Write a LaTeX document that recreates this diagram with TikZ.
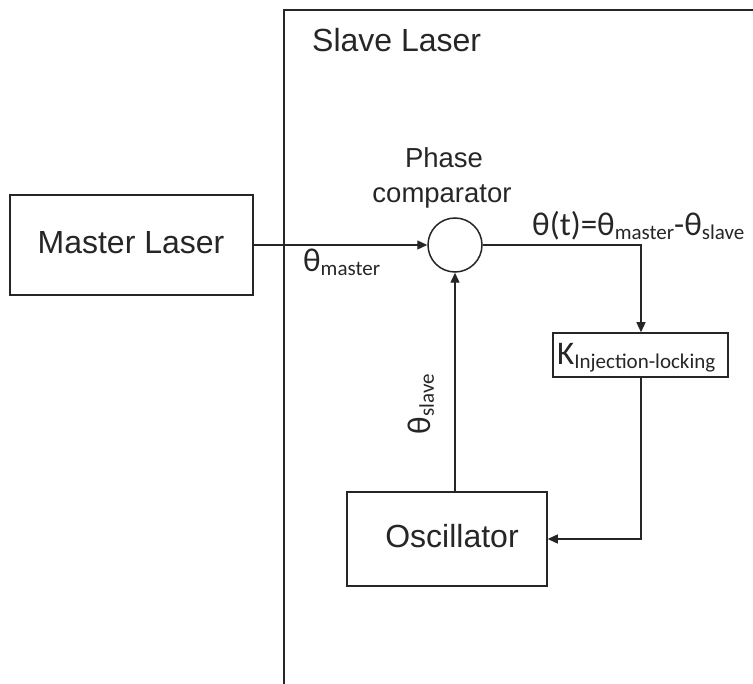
\documentclass[tikz,border=0pt]{standalone}
\usepackage{fontspec}
\setmainfont{Liberation Sans}
\newfontfamily\calfont{Carlito}
\usetikzlibrary{arrows.meta}
\newcommand{\sbs}[1]{\raisebox{-3.5pt}{\fontsize{21}{21}\selectfont #1}}
\begin{document}
\begin{tikzpicture}[x=1pt,y=-1pt,
  line/.style={line width=1.3pt,draw=black!85},
  arr/.style={line, -{Triangle[length=10pt,width=9pt]}},
  blk/.style={draw=black!85,line width=1.5pt,fill=white,inner sep=0pt},
  txt/.style={inner sep=0pt,text=black!85},
  big/.style={font=\fontsize{32}{32}\selectfont},
  mid/.style={font=\fontsize{27.5}{27.5}\selectfont},
  greek/.style={font=\calfont\fontsize{33}{33}\selectfont}]
\useasboundingbox (0,0) rectangle (753,684);
% slave laser enclosure (clipped)
\coordinate (sbl) at (284,684);
\coordinate (stl) at (284,10);
\coordinate (str) at (753,10);
\draw[line,line width=1.5pt] (sbl) -- (stl) -- (str);
\node[txt,big,anchor=base west] (slave) at (312,52) {Slave Laser};
% blocks
\node[blk,minimum width=243pt,minimum height=100pt] (master) at (131.5,245) {};
\node[txt,big,anchor=base] (mastertxt) at (131,254) {Master Laser};
\node[blk,circle,minimum size=54pt] (cmp) at (455,245) {};
\node[txt,mid,anchor=base] (ph1) at (444,168) {Phase};
\node[txt,mid,anchor=base] (ph2) at (442,203) {comparator};
\node[blk,minimum width=175pt,minimum height=44pt] (kbox) at (640.5,355) {};
\node[txt,greek,anchor=base west] (ktxt) at (557,365) {K\sbs{Injection-locking}};
\node[blk,minimum width=200pt,minimum height=94pt] (osc) at (447,539) {};
\node[txt,big,anchor=base] (osctxt) at (452,548) {Oscillator};
% labels
\node[txt,greek,anchor=base west] (thm) at (303,272) {θ\sbs{master}};
\node[txt,greek,anchor=base west] (tht) at (532,236) {θ(t)=θ\sbs{master}-θ\sbs{slave}};
\node[txt,greek,rotate=90] (ths) at (421,404) {θ\sbs{slave}};
% connectors
\coordinate (c1) at (641,245);
\coordinate (c2) at (641,539);
\draw[arr] (master.east) -- (cmp.west);
\draw[arr] (cmp.east) -- (c1) -- (c1 |- kbox.north);
\draw[arr] (c1 |- kbox.south) -- (c2) -- (osc.east);
\draw[arr] (cmp.center |- osc.north) -- (cmp.south);
\end{tikzpicture}
\end{document}
